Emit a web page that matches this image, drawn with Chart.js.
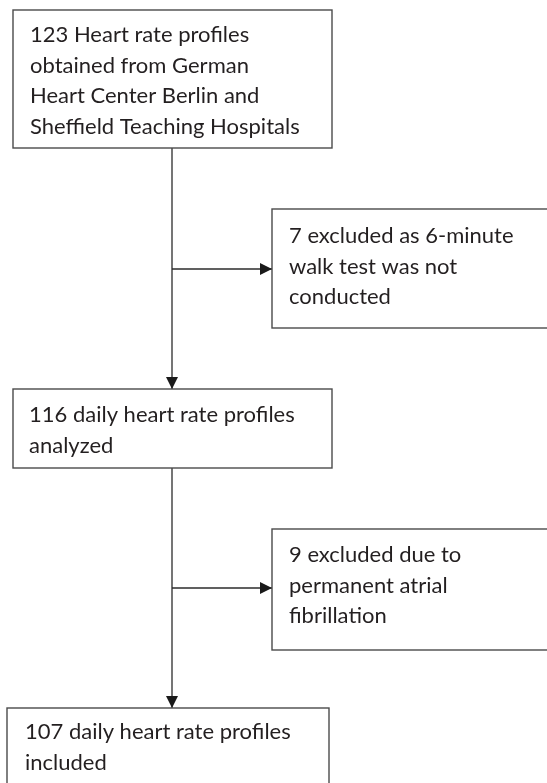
<!DOCTYPE html>
<html>
<head>
<meta charset="utf-8">
<script src="https://cdn.jsdelivr.net/npm/chart.js@4"></script>
<style>
  body { margin: 0; background: #fff; }
  #wrap { width: 547px; height: 783px; }
</style>
</head>
<body>
<div id="wrap"><canvas id="flow"></canvas></div>
<script>
// counts at each step of the flow
const counts = [123, 7, 116, 9, 107];
const boxText = [
    [counts[0] + ' Heart rate profiles', 'obtained from German', 'Heart Center Berlin and', 'Sheffield Teaching Hospitals'],
    [counts[1] + ' excluded as 6-minute', 'walk test was not', 'conducted'],
    [counts[2] + ' daily heart rate profiles', 'analyzed'],
    [counts[3] + ' excluded due to', 'permanent atrial', 'fibrillation'],
    [counts[4] + ' daily heart rate profiles', 'included']
];
// box layout in chart units: left, top, right, bottom, text x, first baseline
const boxes = [
    [13, 10, 332, 148, 30, 42],
    [272, 209, 600, 328, 289, 243],
    [13, 389, 332, 468, 29, 422],
    [272, 529, 600, 650, 289, 562],
    [7, 708, 329, 800, 25, 739]
];
const lineGap = 30.5;
// connectors: from [x,y] to [x,y], arrow at end
const links = [
    [[172, 148], [172, 389]],
    [[172, 269], [272, 269]],
    [[172, 468], [172, 708]],
    [[172, 588], [272, 588]]
];

const flowPlugin = {
    id: 'flow',
    afterDraw(chart) {
        const ctx = chart.ctx;
        const sx = chart.scales.x, sy = chart.scales.y;
        const px = v => sx.getPixelForValue(v);
        const py = v => sy.getPixelForValue(v);
        ctx.save();

        // connectors
        ctx.strokeStyle = '#2b2b2b';
        ctx.fillStyle = '#1a1a1a';
        ctx.lineWidth = 1.3;
        links.forEach(l => {
            const x1 = px(l[0][0]), y1 = py(l[0][1]);
            const x2 = px(l[1][0]), y2 = py(l[1][1]);
            ctx.beginPath();
            ctx.moveTo(x1, y1);
            ctx.lineTo(x2, y2);
            ctx.stroke();
            const a = Math.atan2(y2 - y1, x2 - x1);
            const len = 12, half = 6;
            ctx.beginPath();
            ctx.moveTo(x2, y2);
            ctx.lineTo(x2 - len * Math.cos(a) + half * Math.sin(a), y2 - len * Math.sin(a) - half * Math.cos(a));
            ctx.lineTo(x2 - len * Math.cos(a) - half * Math.sin(a), y2 - len * Math.sin(a) + half * Math.cos(a));
            ctx.closePath();
            ctx.fill();
        });

        // boxes
        ctx.strokeStyle = '#4a4a4a';
        ctx.lineWidth = 1.4;
        ctx.font = '22px Lato';
        ctx.textBaseline = 'alphabetic';
        boxes.forEach((b, i) => {
            const l = px(b[0]), t = py(b[1]), r = px(b[2]), btm = py(b[3]);
            ctx.fillStyle = '#fff';
            ctx.fillRect(l, t, r - l, btm - t);
            ctx.strokeRect(l, t, r - l, btm - t);
            ctx.fillStyle = '#231f20';
            boxText[i].forEach((line, j) => {
                ctx.fillText(line, px(b[4]), py(b[5] + j * lineGap));
            });
        });
        ctx.restore();
    }
};

new Chart(document.getElementById('flow'), {
    type: 'scatter',
    data: { datasets: [{ data: [], pointRadius: 0 }] },
    options: {
        responsive: true,
        maintainAspectRatio: false,
        animation: false,
        layout: { padding: 0 },
        plugins: { legend: { display: false }, tooltip: { enabled: false } },
        scales: {
            x: { type: 'linear', min: 0, max: 547, display: false },
            y: { type: 'linear', min: 0, max: 783, reverse: true, display: false }
        }
    },
    plugins: [flowPlugin]
});
</script>
</body>
</html>
